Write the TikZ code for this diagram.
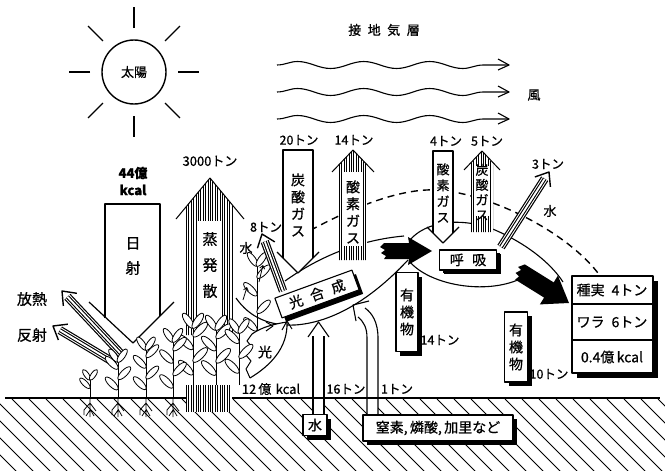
\documentclass[tikz,border=0pt]{standalone}
\usepackage{fontspec}
\setmainfont{Noto Sans CJK JP}[FakeBold=0.7]
\usetikzlibrary{shapes.geometric,decorations.pathmorphing,shadows,arrows.meta,calc}

\tikzset{
  lbl/.style={inner sep=0pt, font=\fontsize{12.5}{13}\selectfont},
  vt/.style={inner sep=0pt, align=center, font=\fontsize{14}{17}\selectfont},
  shbox/.style={draw, line width=1.1pt, fill=white, inner sep=2pt,
    drop shadow={shadow xshift=4pt, shadow yshift=-4pt, fill=black, opacity=1}},
  rim/.style={line width=1.2pt},
  flow/.style={line width=1.1pt},
  leafp/.style={draw, fill=white, line width=0.8pt},
  wind/.style={line width=1.1pt, decorate,
    decoration={snake, segment length=66pt, amplitude=3.5pt, post length=8pt}},
  dsh/.style={line width=1.4pt, dash pattern=on 7pt off 5pt},
  hatchln/.style={line width=0.9pt},
}

% arrow made of four parallel strokes with an open head
\newcommand\striped[2]{%
  \draw[line width=8.4pt] (#1) -- ($(#2)!8pt!(#1)$);
  \draw[line width=6pt,white] (#1) -- ($(#2)!8pt!(#1)$);
  \draw[line width=4pt] (#1) -- ($(#2)!8pt!(#1)$);
  \draw[line width=1.8pt,white] (#1) -- ($(#2)!8pt!(#1)$);
  \draw[line width=1.4pt] ($(#2)!15pt!38:(#1)$) -- (#2) -- ($(#2)!15pt!-38:(#1)$);
}
% a plant: x, base y, top y, number of leaves, size
\newcommand\plantat[5]{%
  \draw[line width=1pt] (#1,#2) -- (#1,#3);
  \foreach \i in {1,...,#4}{%
    \pgfmathsetmacro\yy{#2-(#2-#3)*(\i-0.2)/(#4+0.5)}%
    \pgfmathsetmacro\sd{1-2*mod(\i,2)}%
    \draw[leafp] ({#1+6*\sd*#5},{\yy-6*#5}) circle [x radius={8.2*#5}, y radius={3*#5}, rotate={45*\sd}];
  }%
  \draw[leafp] ({#1-4*#5},{#3-6*#5}) circle [x radius={7.5*#5}, y radius={2.8*#5}, rotate=-55];
  \draw[leafp] ({#1+4*#5},{#3-6*#5}) circle [x radius={7.5*#5}, y radius={2.8*#5}, rotate=55];
}
\newcommand\rootsat[1]{%
  \draw[line width=0.8pt] (#1,398) -- (#1,417) (#1,403) -- ++(-6,7) -- ++(0,5) (#1,403) -- ++(6,8) (#1,410) -- ++(-4,6) (#1,409) -- ++(4,7);
}

\begin{document}
\begin{tikzpicture}[x=1pt,y=-1pt,line join=round]
\useasboundingbox (0,0) rectangle (665,471);
\fill[white] (0,0) rectangle (665,471);

% ---------- soil ----------
\begin{scope}
  \clip (0,399) rectangle (665,471);
  \foreach \x in {-90,-73,...,670} \draw[line width=1pt] (\x,399) -- ++(80,80);
\end{scope}
\draw[line width=1.3pt] (5,398) -- (660,398);

% ---------- sun ----------
\node[circle, draw, line width=1.4pt, minimum size=64pt, inner sep=0pt,
      font=\fontsize{13}{13}\selectfont] (sun) at (134,72) {太陽};
\foreach \a in {0,45,...,315}
  \draw[line width=1.4pt] ($(sun.center)+(\a:44)$) -- ($(sun.center)+(\a:65)$);

% ---------- surface air layer and wind ----------
\node[lbl, font=\fontsize{13}{13}\selectfont] (layer) at (384,30)
  {接\hspace{0.5em}地\hspace{0.5em}気\hspace{0.5em}層};
\foreach \y [count=\k] in {65,92,119}{
  \coordinate (ws\k) at (277,\y);
  \coordinate (we\k) at (509,\y);
  \draw[wind] (ws\k) -- (we\k);
  \draw[line width=1.1pt] ($(we\k)+(-11,-6)$) -- (we\k) -- ($(we\k)+(-11,5)$);
}
\node[lbl, font=\fontsize{13}{13}\selectfont] (kaze) at (534,95) {風};

% ---------- dashed boundary ----------
\draw[dsh] (300,236) .. controls (350,208) and (400,188) .. (437,190)
           .. controls (480,192) and (560,225) .. (598,273);

% ---------- flow loops ----------
\draw[flow] (285,281) .. controls (320,256) and (360,240) .. (404,236);
\draw[flow] (236,298) .. controls (250,318) and (270,326) .. (295,325)
            .. controls (340,322) and (380,290) .. (408,260);
\draw[flow] (410,240) .. controls (425,222) and (460,216) .. (495,230)
            .. controls (525,243) and (550,262) .. (563,282);
\draw[flow] (410,262) .. controls (430,285) and (485,295) .. (520,279);

% ---------- tall plant and light ----------
\plantat{257}{345}{266}{4}{1.1}
\draw[line width=0.8pt, -{Straight Barb[length=3pt,width=5pt]}] (259,282) -- (263,265);
\draw[line width=0.8pt, -{Straight Barb[length=3pt,width=5pt]}] (243,300) -- (247,287);
\fill[white] (252,334) .. controls (262,327) and (274,324) .. (287,323)
  .. controls (288,348) and (270,366) .. (250,378)
  -- (246,369) -- (251,361) -- (245,354) -- (252,347) -- (247,341) -- cycle;
\draw[flow] (252,334) .. controls (262,327) and (274,324) .. (287,322);
\draw[flow] (250,378) .. controls (270,366) and (288,348) .. (287,322);
\draw[line width=1pt] (252,334) -- (247,341) -- (252,347) -- (245,354) -- (251,361) -- (246,369) -- (250,378);
\draw[line width=1pt] (282,330) -- (287,321) -- (292,329);
\draw[line width=1pt] (266,322) -- (273,326) -- (266,331);

% ---------- evapotranspiration arrow ----------
\fill[white] (210,178) -- (186,207) -- (186,335) -- (234,335) -- (234,207) -- cycle;
\begin{scope}
  \clip (210,178) -- (186,207) -- (186,335) -- (234,335) -- (234,207) -- cycle;
  \foreach \x in {186.5,188.9,...,234.5} \draw[hatchln] (\x,170) -- (\x,340);
\end{scope}
\fill[white] (198,221) rectangle (221,336);
\draw[line width=1pt] (176,219) -- (210,178) -- (244,219);
% base of the flux below the canopy
\fill[white] (186,385) rectangle (232,412);
\foreach \x in {186.5,188.9,...,232} \draw[hatchln] (\x,385) -- (\x,412);

% ---------- solar radiation arrow ----------
\fill[white] (105,318) -- (105,204) -- (160,204) -- (160,316) -- (174,302) -- (133,343) -- (89,302) -- cycle;
\draw[rim] (105,318) -- (105,204) -- (160,204) -- (160,316);
\draw[rim] (89,302) -- (133,343) -- (174,302);

% ---------- emitted heat and reflection ----------
\coordinate (hn1) at (123,356); \coordinate (hn2) at (62,291);
\coordinate (hs1) at (113,362); \coordinate (hs2) at (53,326);
\striped{hn1}{hn2}
\striped{hs1}{hs2}

% ---------- crops ----------
\plantat{193}{385}{328}{4}{1.2}
\plantat{216}{385}{330}{4}{1.2}
\plantat{239}{385}{333}{3}{1.15}
\plantat{90}{398}{380}{1}{0.85}
\plantat{118}{398}{362}{3}{1.05}
\plantat{146}{398}{350}{4}{1.05}
\plantat{173}{398}{342}{4}{1.1}
\rootsat{90}\rootsat{118}\rootsat{146}\rootsat{173}

% ---------- gas exchange arrows ----------
% CO2 absorbed (down)
\fill[white] (283,258) -- (283,150) -- (313,150) -- (313,258) -- (319,252) -- (298,273) -- (277,252) -- cycle;
\draw[rim] (283,258) -- (283,150) -- (313,150) -- (313,258);
\draw[rim] (277,252) -- (298,273) -- (319,252);
% O2 released (up, hatched)
\fill[white] (353,150) -- (339,165) -- (339,260) -- (367,260) -- (367,165) -- cycle;
\begin{scope}
  \clip (353,150) -- (339,165) -- (339,260) -- (367,260) -- (367,165) -- cycle;
  \foreach \x in {339.5,341.9,...,367.5} \draw[hatchln] (\x,145) -- (\x,265);
\end{scope}
\fill[white] (344,172) rectangle (362,246);
\draw[line width=1pt] (332,172) -- (353,150) -- (374,172);
% water transpired
\coordinate (w8a) at (283,291); \coordinate (w8b) at (262,234);
\striped{w8a}{w8b}
% O2 taken in by respiration (down)
\fill[white] (433,233) -- (433,151) -- (453,151) -- (453,233) -- (459,227) -- (443,243) -- (427,227) -- cycle;
\draw[rim] (433,233) -- (433,151) -- (453,151) -- (453,233);
\draw[rim] (427,227) -- (443,243) -- (459,227);
% CO2 released by respiration (up, hatched)
\fill[white] (482,151) -- (471,163) -- (471,232) -- (493,232) -- (493,163) -- cycle;
\begin{scope}
  \clip (482,151) -- (471,163) -- (471,232) -- (493,232) -- (493,163) -- cycle;
  \foreach \x in {471.5,473.9,...,493.5} \draw[hatchln] (\x,145) -- (\x,240);
\end{scope}
\fill[white] (474.5,166) rectangle (489.5,216);
\draw[line width=1pt] (464,170) -- (482,151) -- (500,170);
% water released
\coordinate (w3a) at (501,247); \coordinate (w3b) at (549,172);
\striped{w3a}{w3b}

% ---------- matter flow arrows ----------
\fill (384,243) -- (409,243) -- (408,237) -- (432,251) -- (408,265) -- (409,259) -- (384,259)
  -- (386,256) -- (381,253) -- (385,250) -- (380,247) -- cycle;
\fill (524.8,264.4) -- (553.7,282.4) -- (557.9,275.6) -- (569,303) -- (539.9,304.4) -- (544.1,297.6)
  -- (515.2,279.6) -- (519,276.5) -- (515.5,273) -- (521,270) -- (518,267) -- cycle;

% ---------- process boxes ----------
\node[shbox, font=\fontsize{14}{14}\selectfont, rotate=20, minimum width=82pt, minimum height=21pt]
  (kgs) at (317,294) {光\hspace{0.6em}合\hspace{0.6em}成};
\node[shbox, font=\fontsize{14}{14}\selectfont, minimum width=57pt, minimum height=20pt,
  drop shadow={shadow xshift=3pt, shadow yshift=-3pt, fill=black, opacity=1}]
  (kokyu) at (468,260) {呼\hspace{0.6em}吸};
\node[shbox, vt, minimum width=22pt, minimum height=79pt] (yuki1) at (407,312) {有\\機\\物};
\node[shbox, vt, minimum width=23pt, minimum height=70pt] (yuki2) at (516,347) {有\\機\\物};

% ---------- harvest box ----------
\fill (577,281) rectangle (658,378);
\node[draw, line width=1.1pt, fill=white, minimum width=81pt, minimum height=97pt, inner sep=0pt]
  (crop) at (612.5,324.5) {};
\draw[line width=1.1pt] (572,304) -- (653,304) (572,340) -- (653,340);
\node[lbl, font=\fontsize{14}{14}\selectfont] (seed) at (612,290) {種実\hspace{0.5em}4トン};
\node[lbl, font=\fontsize{14}{14}\selectfont] (straw) at (612,322) {ワラ\hspace{0.5em}6トン};
\node[lbl, font=\fontsize{14}{14}\selectfont] (energy) at (612,357) {0.4億\,kcal};

% ---------- uptake from soil ----------
\node[shbox, font=\fontsize{14}{14}\selectfont, minimum width=24pt, minimum height=21pt] (mizubox) at (315,425) {水};
\node[shbox, font=\fontsize{14}{14}\selectfont, minimum width=150pt, minimum height=26pt] (chisso) at (438,428) {窒素,\,燐酸,\,加里など};
\coordinate (wtip) at (318.5,322);
\fill[white] (313.5,398.7) rectangle (323.5,414);
\draw[line width=1.1pt] (313,414) -- (313,336) (324,414) -- (324,336);
\draw[line width=1.1pt] (308,337) -- (wtip) -- (329,337);
\coordinate (ntip) at (353,305);
\fill[white] (367.5,398.7) rectangle (377.5,414);
\draw[line width=1.1pt] (367,414) -- (367,338) .. controls (367,328) and (364,322) .. (358,317);
\draw[line width=1.1pt] (378,414) -- (378,338) .. controls (378,322) and (372,313) .. (365,308);
\draw[line width=1.1pt] (369,301) -- (ntip) -- (356,321);

% ---------- labels ----------
\node[lbl, font=\fontsize{13}{13}\selectfont\bfseries] (e44) at (133,173) {44億};
\node[lbl, font=\fontsize{13}{13}\selectfont\bfseries] (kcal) at (133,190) {kcal};
\node[vt, font=\fontsize{15}{25}\selectfont] (nissha) at (133,256) {日\\射};
\node[lbl, font=\fontsize{13}{13}\selectfont] (t3000) at (210,161) {3000トン};
\node[vt, font=\fontsize{15}{26}\selectfont] (jouhatsu) at (210,265) {蒸\\発\\散};
\node[lbl, font=\fontsize{15}{15}\selectfont] (hounetsu) at (32,299) {放熱};
\node[lbl, font=\fontsize{15}{15}\selectfont] (hansha) at (32,335) {反射};
\node[lbl] (t20) at (299,140) {20トン};
\node[vt] (co2a) at (298,205) {炭\\酸\\ガ\\ス};
\node[lbl] (t14) at (354,140) {14トン};
\node[vt] (o2a) at (353,212) {酸\\素\\ガ\\ス};
\node[lbl] (t8) at (266,227) {8トン};
\node[lbl, font=\fontsize{13}{13}\selectfont] (mizu1) at (246,248) {水};
\node[lbl] (t4) at (446,141) {4トン};
\node[vt, font=\fontsize{13}{16}\selectfont] (o2b) at (443,193) {酸\\素\\ガ\\ス};
\node[lbl] (t5) at (487,141) {5トン};
\node[vt, font=\fontsize{13}{15}\selectfont] (co2b) at (482,192) {炭\\酸\\ガ\\ス};
\node[lbl] (t3) at (548,164) {3トン};
\node[lbl, font=\fontsize{13}{13}\selectfont] (mizu2) at (550,211) {水};
\node[lbl] (t14b) at (440,340) {14トン};
\node[lbl] (t10) at (549,374) {10トン};
\node[lbl, font=\fontsize{14}{14}\selectfont] (hikari) at (265,352) {光};
\node[lbl, font=\fontsize{13}{13}\selectfont] (kcal12) at (271,389) {12\,億\,\,kcal};
\node[lbl] (t16) at (346,389) {16トン};
\node[lbl] (t1) at (397,389) {1トン};
\end{tikzpicture}
\end{document}
